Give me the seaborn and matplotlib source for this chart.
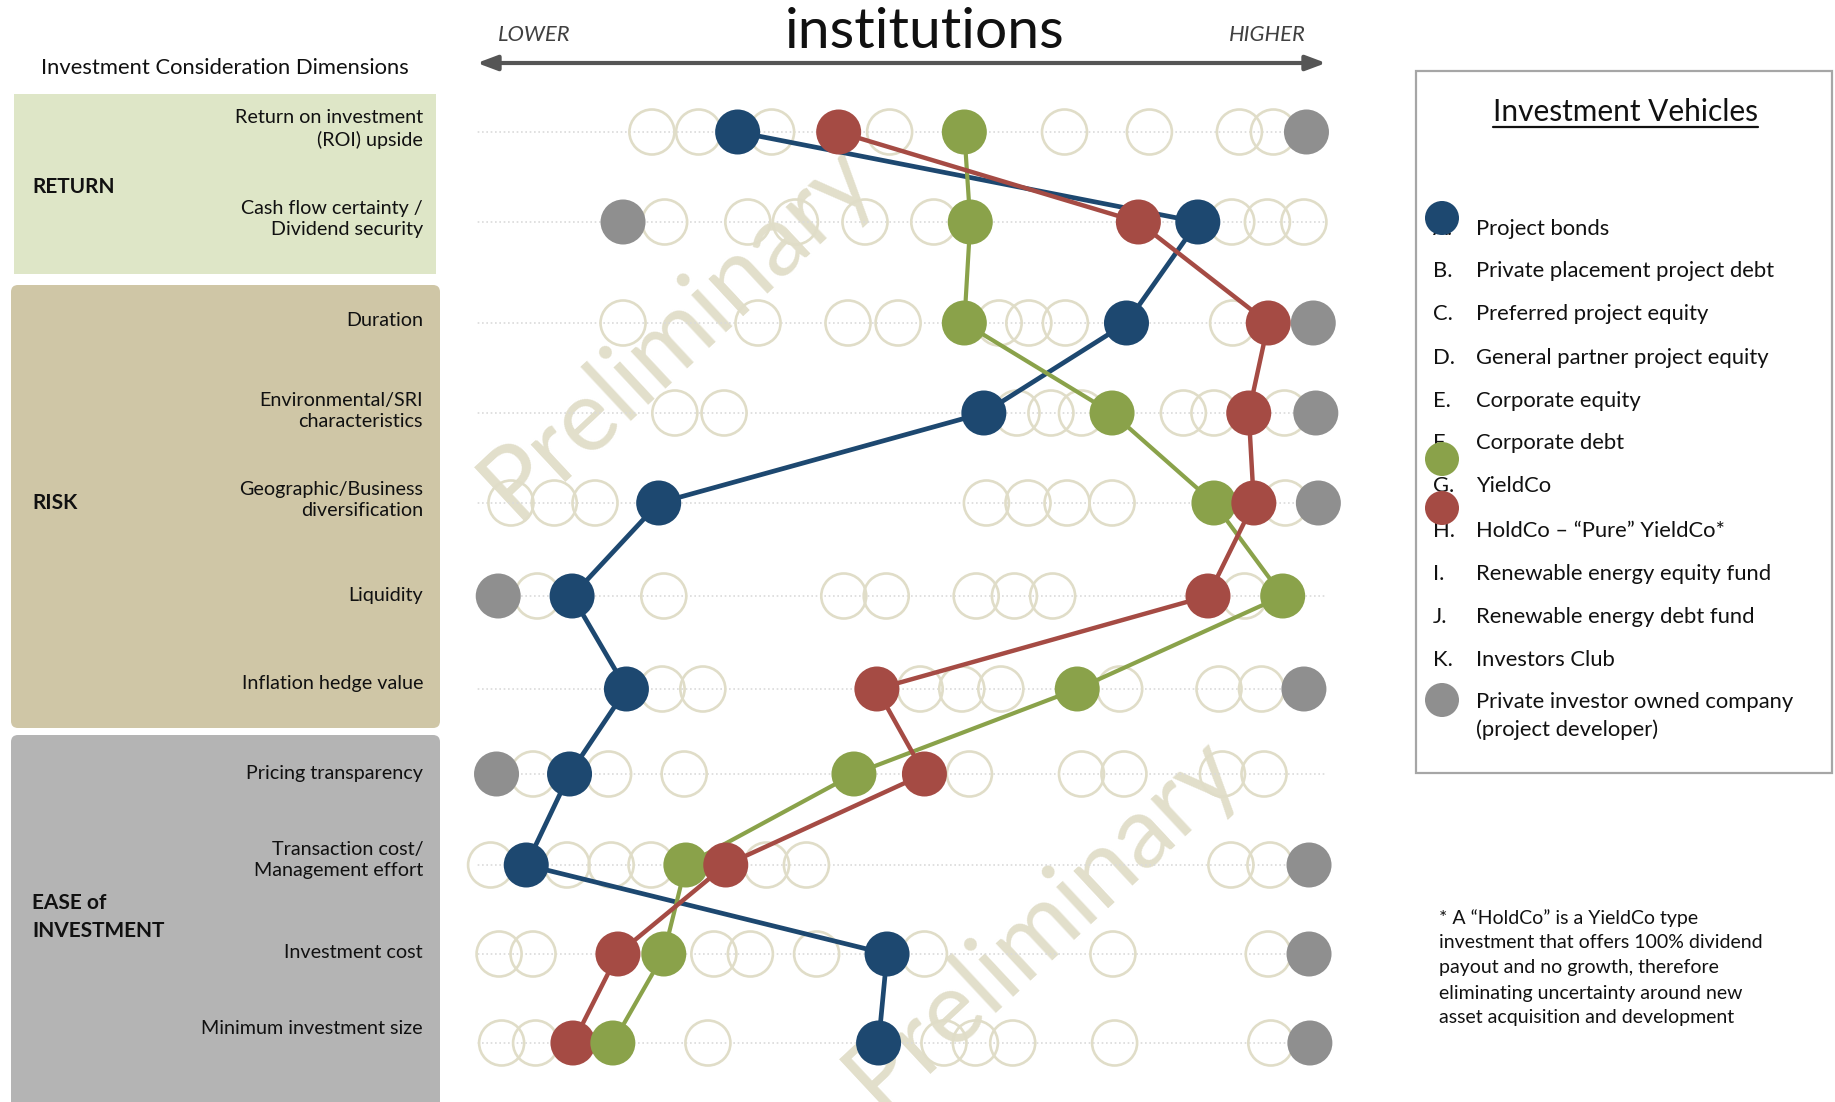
import matplotlib
matplotlib.use("Agg")
import numpy as np
import pandas as pd
import matplotlib.pyplot as plt
from matplotlib.patches import Rectangle, FancyBboxPatch, FancyArrowPatch
import seaborn as sns

# ---------------------------------------------------------------- data
DIMENSIONS = [
    "Return on investment\n(ROI) upside",
    "Cash flow certainty /\nDividend security",
    "Duration",
    "Environmental/SRI\ncharacteristics",
    "Geographic/Business\ndiversification",
    "Liquidity",
    "Inflation hedge value",
    "Pricing transparency",
    "Transaction cost/\nManagement effort",
    "Investment cost",
    "Minimum investment size",
]
GROUPS = ["RETURN", "RISK", "EASE of\nINVESTMENT"]

# scores on a 0 (lower) .. 100 (higher) scale, one value per dimension
PROJECT_BONDS = [30.7, 84.9, 76.5, 59.7, 21.4, 11.2, 17.6, 10.9, 5.8, 48.3, 47.3]
YIELDCO = [57.4, 58.1, 57.4, 74.8, 86.8, 94.9, 70.7, 44.4, 24.6, 22.0, 16.0]
HOLDCO = [42.6, 77.9, 93.2, 90.9, 91.5, 86.1, 47.1, 52.7, 29.3, 16.6, 11.3]
PRIVATE_DEV = [97.7, 17.2, 98.5, 98.8, 99.1, 2.5, 97.4, 2.3, 98.0, 98.0, 98.1]

# the remaining eight vehicles, per dimension (not highlighted)
OTHER_VEHICLES = [
    [20.6, 26.1, 34.7, 48.6, 69.2, 79.2, 89.8, 93.8],
    [22.1, 31.9, 37.5, 45.7, 53.8, 88.9, 93.1, 97.4],
    [17.2, 33.1, 43.7, 49.6, 61.5, 65.0, 69.3, 89.0],
    [23.3, 29.1, 63.6, 67.6, 71.2, 83.2, 86.8, 95.1],
    [4.0, 9.1, 13.9, 60.0, 64.9, 69.5, 74.8, 95.2],
    [7.1, 22.0, 43.2, 48.2, 58.8, 63.3, 67.8, 90.4],
    [21.8, 26.6, 52.2, 57.1, 61.7, 75.7, 87.4, 92.4],
    [6.6, 15.5, 24.4, 58.0, 71.2, 76.2, 87.8, 92.7],
    [1.6, 10.6, 15.8, 20.5, 34.1, 38.8, 88.8, 93.4],
    [2.6, 6.6, 27.9, 32.2, 40.0, 52.7, 74.9, 93.2],
    [2.9, 6.9, 27.2, 55.0, 58.7, 63.1, 75.1, 93.5],
]

LEGEND_LETTERS = ["A.", "B.", "C.", "D.", "E.", "F.", "G.", "H.", "I.", "J.", "K.", ""]
LEGEND_NAMES = [
    "Project bonds",
    "Private placement project debt",
    "Preferred project equity",
    "General partner project equity",
    "Corporate equity",
    "Corporate debt",
    "YieldCo",
    "HoldCo \u2013 \u201cPure\u201d YieldCo*",
    "Renewable energy equity fund",
    "Renewable energy debt fund",
    "Investors Club",
    "Private investor owned company\n(project developer)",
]
FOOTNOTE = [
    "* A \u201cHoldCo\u201d is a YieldCo type",
    "investment that offers 100% dividend",
    "payout and no growth, therefore",
    "eliminating uncertainty around new",
    "asset acquisition and development",
]

# ---------------------------------------------------------------- style
BLUE, RED, GREEN, GREY = "#1D4870", "#A54B44", "#8AA24A", "#8F8F8F"
RING = "#E0DDC8"
WATERMARK = "#E2DFCB"
PALETTE = {"Project bonds": BLUE, "HoldCo": RED, "YieldCo": GREEN,
           "Private investor owned company": GREY}

W, H = 1835, 1102
ROW_Y = [132, 222, 323, 413, 503, 596, 689, 774, 865, 954, 1043]
LABEL_Y = [129, 219, 321, 411, 500, 595, 684, 773, 860, 953, 1028]
GROUP_Y = [187, 503, 917]
LEGEND_Y = [229, 271, 314, 358, 401, 443, 486, 531, 574, 617, 660, 716]
X0, X1 = 477, 1326          # pixel span of the LOWER..HIGHER axis

sns.set_theme(style="white")
plt.rcParams["font.family"] = ["Lato", "DejaVu Sans"]
plt.rcParams["text.color"] = "#111111"

fig = plt.figure(figsize=(W / 100, H / 100), dpi=100)
fig.patch.set_facecolor("white")

# canvas axes in pixel units for panels and annotations
bg = fig.add_axes([0, 0, 1, 1], zorder=0)

# chart axes: x = score, y = row position
ax = fig.add_axes([X0 / W, 0, (X1 - X0) / W, 1], zorder=1)
ax.set_xlim(0, 100)
ax.set_ylim(H, 0)
ax.axis("off")
ax.patch.set_alpha(0)

# ---------------------------------------------------------------- left panel
bg.add_patch(Rectangle((14, 94), 422, 180, color="#DEE6C7", lw=0))
bg.add_patch(FancyBboxPatch((11, 285), 429, 443, boxstyle="round,pad=0,rounding_size=7",
                            color="#CFC6A6", lw=0))
bg.add_patch(FancyBboxPatch((11, 735), 429, 390, boxstyle="round,pad=0,rounding_size=7",
                            color="#B4B4B4", lw=0))

bg.text(225, 68, "Investment Consideration Dimensions", ha="center", va="center",
        fontsize=15.8)
for g, gy in zip(GROUPS, GROUP_Y):
    bg.text(32, gy, g, ha="left", va="center", fontsize=15, fontweight="bold",
            linespacing=1.45)
for lab, ly in zip(DIMENSIONS, LABEL_Y):
    bg.text(423, ly, lab, ha="right", va="center", fontsize=14.2,
            multialignment="right", linespacing=1.33)

# ---------------------------------------------------------------- header
bg.text(925, 48, "institutions", ha="center", va="baseline", fontsize=41)
bg.text(534, 35, "LOWER", ha="center", va="center", fontsize=15.8, style="italic",
        color="#404040")
bg.text(1267, 35, "HIGHER", ha="center", va="center", fontsize=15.8, style="italic",
        color="#404040")
bg.add_patch(FancyArrowPatch((X0, 63), (X1, 63),
                             arrowstyle="<|-|>,head_length=12,head_width=4.5",
                             mutation_scale=1, lw=3, color="#555555",
                             shrinkA=0, shrinkB=0))

# ---------------------------------------------------------------- chart
ax.hlines(ROW_Y, -1.0, 101.2, colors="#DADADA", linestyles=(0, (1, 1.6)), lw=1.2,
          zorder=1)

for cx, cy in [(23.6, 330), (66.6, 922)]:
    ax.text(cx, cy, "Preliminary", rotation=43, rotation_mode="anchor",
            ha="center", va="center", fontsize=72, color=WATERMARK, zorder=0.5,
            clip_on=False)

rings = pd.DataFrame(
    [(dim, s, y) for dim, row, y in zip(DIMENSIONS, OTHER_VEHICLES, ROW_Y) for s in row],
    columns=["dimension", "score", "row_y"],
)
sns.scatterplot(data=rings, x="score", y="row_y", s=1050, color="white",
                edgecolor=RING, linewidth=1.9, ax=ax, zorder=2, legend=False)
ring_coll = ax.collections[-1]
ring_coll.set_facecolor("none")
ring_coll.set_clip_on(False)

for series, col, lw in [(PROJECT_BONDS, BLUE, 3.4), (YIELDCO, GREEN, 3.0),
                        (HOLDCO, RED, 3.2)]:
    sns.lineplot(x=series, y=ROW_Y, sort=False, estimator=None, color=col,
                 lw=lw, ax=ax, zorder=3)

dots = pd.concat([
    pd.DataFrame({"vehicle": name, "score": vals, "row_y": ROW_Y})
    for name, vals in [("Project bonds", PROJECT_BONDS), ("YieldCo", YIELDCO),
                       ("HoldCo", HOLDCO), ("Private investor owned company", PRIVATE_DEV)]
]).sort_values(["row_y", "score"]).reset_index(drop=True)
sns.scatterplot(data=dots, x="score", y="row_y", hue="vehicle", palette=PALETTE,
                s=1050, linewidth=0, ax=ax, zorder=4, legend=False)
ax.collections[-1].set_clip_on(False)
for line in ax.lines:
    line.set_clip_on(False)

# ---------------------------------------------------------------- legend panel
bg.add_patch(Rectangle((1416, 71), 416, 702, fill=False, edgecolor="#A6A6A6", lw=1.6))
bg.text(1625, 112, "Investment Vehicles", ha="center", va="center", fontsize=21.5)
bg.plot([1493, 1758], [127, 127], color="#111111", lw=1.6)
for letter, name, ly in zip(LEGEND_LETTERS, LEGEND_NAMES, LEGEND_Y):
    bg.text(1433, ly, letter, ha="left", va="center", fontsize=15.8)
    bg.text(1476, ly, name, ha="left", va="center", fontsize=15.8, linespacing=1.4)
legend_marks = pd.DataFrame({
    "vehicle": ["Project bonds", "YieldCo", "HoldCo", "Private investor owned company"],
    "x": [1442, 1442, 1442, 1442],
    "y": [218, 459, 508, 700],
})
sns.scatterplot(data=legend_marks, x="x", y="y", hue="vehicle", palette=PALETTE,
                s=600, linewidth=0, ax=bg, zorder=5, legend=False)
bg.set_xlim(0, W)
bg.set_ylim(H, 0)
bg.axis("off")

for i, line in enumerate(FOOTNOTE):
    bg.text(1439, 918 + i * 25, line, ha="left", va="center", fontsize=14)

fig.savefig("out.png", dpi=100, facecolor="white")
